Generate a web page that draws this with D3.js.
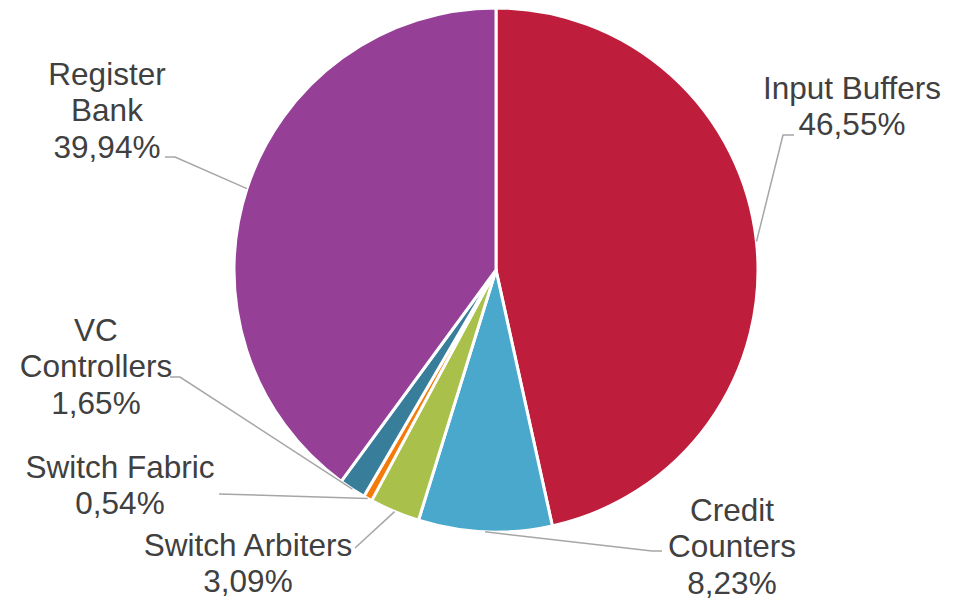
<!DOCTYPE html>
<html>
<head>
<meta charset="utf-8">
<script src="https://cdn.jsdelivr.net/npm/d3@7"></script>
<style>
  html, body { margin: 0; padding: 0; background: #fff; }
  svg { display: block; }
</style>
</head>
<body>
<svg id="chart" width="959" height="598"></svg>
<script>
// shares, clockwise from 12 o'clock
const categories = ["Input Buffers", "Credit Counters", "Switch Arbiters", "Switch Fabric", "VC Controllers", "Register Bank"];
const shares = [46.55, 8.23, 3.09, 0.54, 1.65, 39.94];
const labelLines = [
  ["Input Buffers"],
  ["Credit", "Counters"],
  ["Switch Arbiters"],
  ["Switch Fabric"],
  ["VC", "Controllers"],
  ["Register", "Bank"]
];
const colors = ["#BE1E3C", "#4BA8CD", "#A9C04B", "#F47A0A", "#387E9B", "#963F96"];

// label layout: text centre x, first baseline, leader elbow and end
const labelLayout = [
  { x: 852, y: 99,  elbow: [783, 135], end: [794, 135] },
  { x: 732, y: 521, elbow: [652, 551], end: [662, 551] },
  { x: 248, y: 556, elbow: [355, 548], end: [355, 548] },
  { x: 120, y: 478, elbow: [219, 494], end: [219, 494] },
  { x: 96,  y: 341, elbow: [180, 377], end: [170, 377] },
  { x: 107, y: 85,  elbow: [175, 157], end: [165, 157] }
];

const fmt = v => v.toFixed(2).replace(".", ",") + "%";

const cx = 496, cy = 270, r = 262;
const lineH = 36.3;

const svg = d3.select("#chart");
const g = svg.append("g").attr("transform", `translate(${cx},${cy})`);

const data = categories.map((c, i) => ({ name: c, value: shares[i], i }));

const pie = d3.pie().value(d => d.value).sort(null);
const arc = d3.arc().innerRadius(0).outerRadius(r);
const arcs = pie(data);

g.selectAll("path.slice")
  .data(arcs)
  .enter()
  .append("path")
  .attr("class", "slice")
  .attr("d", arc)
  .attr("fill", d => colors[d.data.i])
  .attr("stroke", "#fff")
  .attr("stroke-width", 3)
  .attr("stroke-linejoin", "round");

// leader lines: from slice edge at mid-angle to elbow, then to text
g.selectAll("polyline.leader")
  .data(arcs)
  .enter()
  .append("polyline")
  .attr("class", "leader")
  .attr("points", d => {
    const a = (d.startAngle + d.endAngle) / 2;
    const p0 = [r * Math.sin(a), -r * Math.cos(a)];
    const L = labelLayout[d.data.i];
    const p1 = [L.elbow[0] - cx, L.elbow[1] - cy];
    const p2 = [L.end[0] - cx, L.end[1] - cy];
    return [p0, p1, p2].map(p => p.join(",")).join(" ");
  })
  .attr("fill", "none")
  .attr("stroke", "#A6A6A6")
  .attr("stroke-width", 1.5);

// labels
const labels = svg.selectAll("text.label")
  .data(arcs)
  .enter()
  .append("text")
  .attr("class", "label")
  .attr("text-anchor", "middle")
  .style("font-family", "'Liberation Sans', Arial, sans-serif")
  .style("font-size", "31.5px")
  .style("fill", "#404040");

labels.each(function (d) {
  const L = labelLayout[d.data.i];
  const lines = labelLines[d.data.i].concat([fmt(d.data.value)]);
  d3.select(this).selectAll("tspan")
    .data(lines)
    .enter()
    .append("tspan")
    .attr("x", L.x)
    .attr("y", (t, k) => L.y + k * lineH)
    .text(t => t);
});
</script>
</body>
</html>
